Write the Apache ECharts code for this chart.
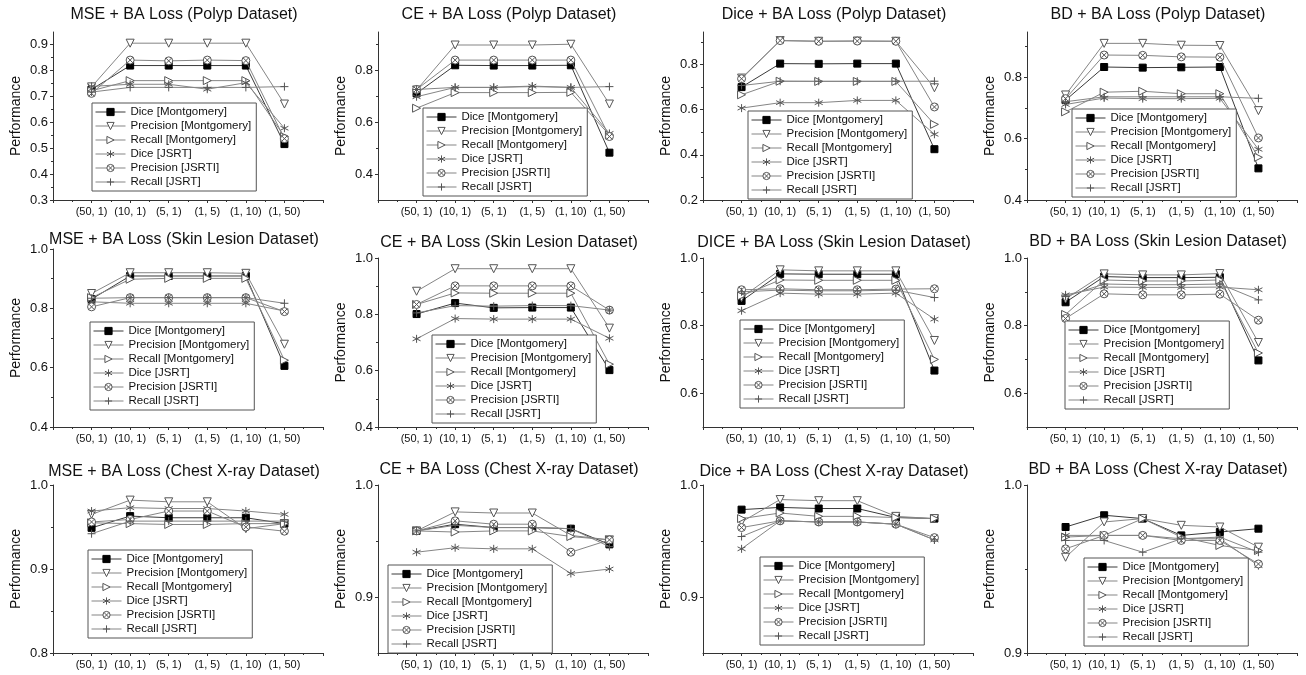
<!DOCTYPE html>
<html><head><meta charset="utf-8">
<script src="https://cdn.jsdelivr.net/npm/echarts@6/dist/echarts.min.js"></script>
<style>html,body{margin:0;padding:0;background:#fff}#c{width:1306px;height:675px}</style>
</head><body><div id="c"></div><script>
// ---------- data ----------
const categories = ['(50, 1)', '(10, 1)', '(5, 1)', '(1, 5)', '(1, 10)', '(1, 50)'];
const seriesNames = ['Dice [Montgomery]', 'Precision [Montgomery]', 'Recall [Montgomery]', 'Dice [JSRT]', 'Precision [JSRTI]', 'Recall [JSRT]'];
const titles = [
  'MSE + BA Loss (Polyp Dataset)', 'CE + BA Loss (Polyp Dataset)', 'Dice + BA Loss (Polyp Dataset)', 'BD + BA Loss (Polyp Dataset)',
  'MSE + BA Loss (Skin Lesion Dataset)', 'CE + BA Loss (Skin Lesion Dataset)', 'DICE + BA Loss (Skin Lesion Dataset)', 'BD + BA Loss (Skin Lesion Dataset)',
  'MSE + BA Loss (Chest X-ray Dataset)', 'CE + BA Loss (Chest X-ray Dataset)', 'Dice + BA Loss (Chest X-ray Dataset)', 'BD + BA Loss (Chest X-ray Dataset)'
];
// rows: Dice[M], Precision[M], Recall[M], Dice[JSRT], Precision[JSRTI], Recall[JSRT]
const msePolyp = [
  [0.725, 0.817, 0.817, 0.817, 0.817, 0.515],
  [0.735, 0.903, 0.903, 0.903, 0.903, 0.669],
  [0.720, 0.759, 0.759, 0.759, 0.759, 0.544],
  [0.737, 0.745, 0.745, 0.726, 0.751, 0.576],
  [0.710, 0.838, 0.835, 0.838, 0.836, 0.536],
  [0.715, 0.733, 0.733, 0.733, 0.733, 0.736]];
const cePolyp = [
  [0.710, 0.818, 0.817, 0.817, 0.818, 0.482],
  [0.723, 0.896, 0.896, 0.896, 0.899, 0.669],
  [0.653, 0.713, 0.713, 0.713, 0.714, 0.550],
  [0.697, 0.733, 0.733, 0.738, 0.733, 0.556],
  [0.725, 0.838, 0.838, 0.838, 0.838, 0.544],
  [0.725, 0.733, 0.733, 0.736, 0.733, 0.736]];
const dicePolyp = [
  [0.700, 0.804, 0.803, 0.804, 0.804, 0.425],
  [0.740, 0.906, 0.903, 0.904, 0.903, 0.697],
  [0.666, 0.726, 0.725, 0.725, 0.725, 0.535],
  [0.607, 0.631, 0.631, 0.641, 0.641, 0.491],
  [0.737, 0.906, 0.903, 0.904, 0.903, 0.612],
  [0.707, 0.726, 0.726, 0.726, 0.726, 0.726]];
const bdPolyp = [
  [0.725, 0.833, 0.831, 0.832, 0.833, 0.503],
  [0.742, 0.910, 0.910, 0.904, 0.903, 0.691],
  [0.687, 0.751, 0.754, 0.746, 0.746, 0.539],
  [0.711, 0.732, 0.730, 0.730, 0.731, 0.565],
  [0.730, 0.872, 0.871, 0.866, 0.865, 0.602],
  [0.720, 0.736, 0.736, 0.736, 0.736, 0.731]];
const mseSkin = [
  [0.831, 0.909, 0.909, 0.909, 0.909, 0.606],
  [0.850, 0.920, 0.920, 0.920, 0.918, 0.679],
  [0.836, 0.898, 0.901, 0.901, 0.901, 0.625],
  [0.822, 0.817, 0.817, 0.817, 0.817, 0.791],
  [0.805, 0.836, 0.836, 0.836, 0.836, 0.789],
  [0.834, 0.836, 0.836, 0.836, 0.836, 0.817]];
const ceSkin = [
  [0.801, 0.840, 0.823, 0.824, 0.824, 0.602],
  [0.882, 0.962, 0.962, 0.962, 0.962, 0.751],
  [0.835, 0.876, 0.875, 0.875, 0.875, 0.623],
  [0.713, 0.785, 0.783, 0.783, 0.783, 0.715],
  [0.835, 0.901, 0.901, 0.901, 0.901, 0.815],
  [0.805, 0.831, 0.829, 0.831, 0.831, 0.815]];
const diceSkin = [
  [0.873, 0.953, 0.952, 0.952, 0.952, 0.667],
  [0.883, 0.965, 0.962, 0.962, 0.962, 0.756],
  [0.888, 0.935, 0.934, 0.934, 0.934, 0.700],
  [0.844, 0.896, 0.893, 0.893, 0.896, 0.819],
  [0.906, 0.909, 0.906, 0.906, 0.908, 0.909],
  [0.900, 0.905, 0.903, 0.903, 0.905, 0.883]];
const bdSkin = [
  [0.869, 0.945, 0.942, 0.942, 0.943, 0.697],
  [0.879, 0.953, 0.950, 0.950, 0.954, 0.750],
  [0.833, 0.935, 0.932, 0.932, 0.935, 0.719],
  [0.891, 0.914, 0.913, 0.913, 0.914, 0.906],
  [0.821, 0.894, 0.891, 0.891, 0.893, 0.816],
  [0.886, 0.923, 0.921, 0.921, 0.923, 0.876]];
const mseChest = [
  [0.949, 0.963, 0.961, 0.961, 0.961, 0.954],
  [0.965, 0.982, 0.980, 0.980, 0.948, 0.954],
  [0.955, 0.954, 0.953, 0.953, 0.954, 0.954],
  [0.969, 0.973, 0.972, 0.972, 0.969, 0.965],
  [0.956, 0.959, 0.969, 0.969, 0.950, 0.945],
  [0.942, 0.957, 0.957, 0.957, 0.957, 0.957]];
const ceChest = [
  [0.959, 0.965, 0.962, 0.962, 0.961, 0.947],
  [0.959, 0.976, 0.975, 0.975, 0.955, 0.951],
  [0.959, 0.958, 0.959, 0.959, 0.954, 0.951],
  [0.940, 0.944, 0.943, 0.943, 0.921, 0.925],
  [0.959, 0.968, 0.965, 0.965, 0.940, 0.951],
  [0.959, 0.964, 0.962, 0.962, 0.961, 0.945]];
const diceChest = [
  [0.978, 0.980, 0.979, 0.979, 0.971, 0.970],
  [0.967, 0.987, 0.986, 0.986, 0.972, 0.970],
  [0.970, 0.975, 0.972, 0.972, 0.971, 0.970],
  [0.943, 0.968, 0.967, 0.967, 0.965, 0.951],
  [0.962, 0.968, 0.967, 0.967, 0.965, 0.953],
  [0.954, 0.968, 0.967, 0.967, 0.965, 0.951]];
const bdChest = [
  [0.975, 0.982, 0.980, 0.970, 0.972, 0.974],
  [0.957, 0.978, 0.980, 0.976, 0.975, 0.963],
  [0.969, 0.970, 0.980, 0.969, 0.964, 0.961],
  [0.970, 0.970, 0.970, 0.968, 0.968, 0.952],
  [0.962, 0.970, 0.970, 0.967, 0.967, 0.953],
  [0.967, 0.967, 0.960, 0.968, 0.969, 0.960]];
const panels = [msePolyp, cePolyp, dicePolyp, bdPolyp, mseSkin, ceSkin, diceSkin, bdSkin, mseChest, ceChest, diceChest, bdChest];

// axis ranges and tick labels
const yMin = [0.3, 0.3, 0.2, 0.4, 0.4, 0.4, 0.5, 0.5, 0.8, 0.85, 0.85, 0.9];
const yMax = [0.946, 0.946, 0.944, 0.947, 1.0, 1.0, 1.0, 1.0, 1.0, 1.0, 1.0, 1.0];
const yTicks = [
  [0.3, 0.4, 0.5, 0.6, 0.7, 0.8, 0.9], [0.4, 0.6, 0.8], [0.2, 0.4, 0.6, 0.8], [0.4, 0.6, 0.8],
  [0.4, 0.6, 0.8, 1.0], [0.4, 0.6, 0.8, 1.0], [0.6, 0.8, 1.0], [0.6, 0.8, 1.0],
  [0.8, 0.9, 1.0], [0.9, 1.0], [0.9, 1.0], [0.9, 1.0]];
const yMinorTicks = [
  [0.35, 0.45, 0.55, 0.65, 0.75, 0.85], [0.5, 0.7, 0.9], [0.3, 0.5, 0.7, 0.9], [0.5, 0.7, 0.9],
  [0.5, 0.7, 0.9], [0.5, 0.7, 0.9], [0.7, 0.9], [0.7, 0.9],
  [0.85, 0.95], [0.95], [0.95], [0.95]];

// ---------- layout / style ----------
const FONT = '"Liberation Sans", Arial, Helvetica, sans-serif';
const colLeft = [53, 378, 703, 1027];
const plotW = 270;
const rowTop = [32, 258, 485];
const rowBottom = [200, 427, 653];
const topOverride = {4: 249};
const titleY = [15, 15, 15, 15, 240, 243, 243, 242, 472, 470, 472, 470];
const legendPos = [[92, 103], [423, 108], [748, 111], [1072, 109], [90, 322], [432, 335], [740, 320], [1065, 321], [88, 550], [388, 565], [760, 557], [1084, 558]];
const symbols = [
  'rect',
  'path://M0,0L10,0L5,9Z',
  'path://M0,0L9,5L0,10Z',
  'path://M5,0L5,10M0.67,2.5L9.33,7.5M9.33,2.5L0.67,7.5',
  'path://M10,5A5,5,0,1,1,0,5A5,5,0,1,1,10,5ZM1.5,1.5L8.5,8.5M8.5,1.5L1.5,8.5',
  'path://M5,0L5,10M0,5L10,5'];
const symSize = [7, 8, 8, 8, 8, 8];
const lineColors = ['#3a3a3a', '#858585', '#858585', '#858585', '#858585', '#858585'];
const fillColors = ['#000', '#fff', '#fff', '#fff', '#fff', '#fff'];
const strokeColors = ['#000', '#555', '#555', '#555', '#555', '#555'];

const grid = [], xAxis = [], yAxis = [], series = [], legend = [], graphic = [];
panels.forEach((vals, p) => {
  const r = Math.floor(p / 4), c = p % 4;
  const top = topOverride[p] !== undefined ? topOverride[p] : rowTop[r];
  grid.push({left: colLeft[c], top: top, width: plotW, height: rowBottom[r] - top});
  xAxis.push({
    type: 'value', gridIndex: p, min: 0, max: 7, interval: 1,
    axisLine: {lineStyle: {color: '#333', width: 1}},
    axisTick: {length: 3, lineStyle: {color: '#333'}},
    minorTick: {show: true, splitNumber: 2, length: 2, lineStyle: {color: '#333'}},
    splitLine: {show: false}, minorSplitLine: {show: false},
    axisLabel: {formatter: v => categories[v - 1] || '', fontSize: 11, margin: 6, color: '#111', fontFamily: FONT}
  });
  yAxis.push({
    type: 'value', gridIndex: p, min: yMin[p], max: yMax[p], position: 'left',
    axisLine: {show: true, lineStyle: {color: '#333', width: 1}},
    axisTick: {show: true, customValues: yTicks[p], length: 3, lineStyle: {color: '#333'}},
    axisLabel: {customValues: yTicks[p], formatter: v => v.toFixed(1), fontSize: 13, margin: 5, color: '#111', fontFamily: FONT},
    splitLine: {show: false},
    name: 'Performance', nameLocation: 'middle', nameGap: 30,
    nameTextStyle: {fontSize: 14, color: '#111', fontFamily: FONT}
  });
  yAxis.push({
    type: 'value', gridIndex: p, min: yMin[p], max: yMax[p], position: 'left',
    axisLine: {show: false},
    axisTick: {show: true, customValues: yMinorTicks[p], length: 2, lineStyle: {color: '#333'}},
    axisLabel: {show: false}, splitLine: {show: false}
  });
  vals.forEach((row, k) => {
    series.push({
      type: 'line', name: seriesNames[k], xAxisIndex: p, yAxisIndex: 2 * p,
      data: row.map((v, i) => [i + 1, v]),
      symbol: symbols[k], symbolSize: symSize[k], showAllSymbol: true,
      lineStyle: {color: lineColors[k], width: 1},
      itemStyle: {color: fillColors[k], borderColor: strokeColors[k], borderWidth: 1},
      emphasis: {disabled: true}, z: 2 + k * 0.01
    });
  });
  legend.push({
    left: legendPos[p][0], top: legendPos[p][1], orient: 'vertical',
    itemWidth: 30, itemHeight: 9, itemGap: 2, padding: [3, 5, 3, 3],
    borderColor: '#555', borderWidth: 1, backgroundColor: '#fff',
    selectedMode: false, data: seriesNames,
    itemStyle: {borderWidth: 1}, lineStyle: {width: 1},
    textStyle: {fontSize: 11.5, lineHeight: 12, color: '#111', fontFamily: FONT}
  });
  graphic.push({
    type: 'text', x: colLeft[c] + plotW / 2 - 4, y: titleY[p], silent: true,
    style: {text: titles[p], fill: '#111', font: '16px ' + FONT, textAlign: 'center', textVerticalAlign: 'middle'}
  });
});

const chart = echarts.init(document.getElementById('c'), null, {renderer: 'canvas'});
chart.setOption({
  backgroundColor: '#fff', animation: false,
  grid, xAxis, yAxis, series, legend, graphic
});
</script></body></html>
